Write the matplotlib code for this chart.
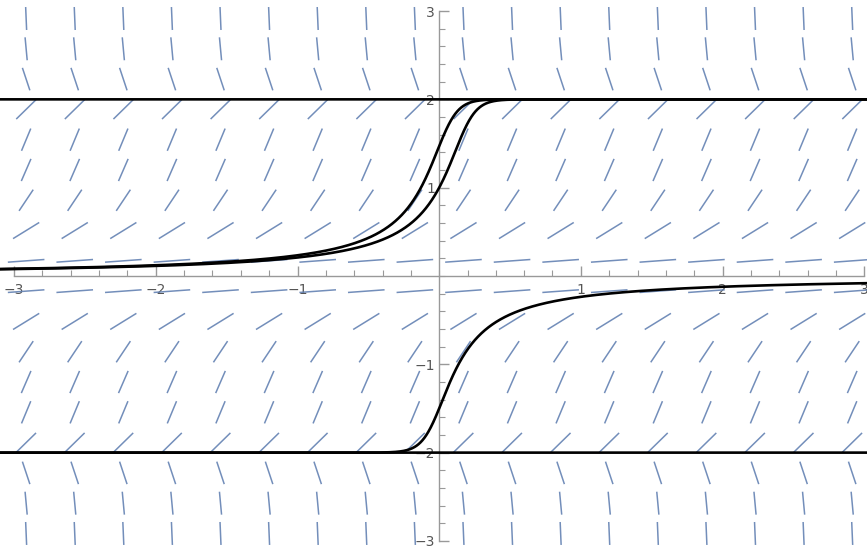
import numpy as np
import matplotlib
matplotlib.use("Agg")
import matplotlib.pyplot as plt
from matplotlib.collections import LineCollection
from matplotlib.ticker import MultipleLocator, FixedLocator

# slope field dy/dx = y^2 (4 - y^2), sampled on an 18 x 18 grid
step = 0.343
grid_x = (np.arange(18) - 8.5) * step
grid_y = (np.arange(18) - 8.5) * step
seg_len = 0.26

# initial values y(0) of the drawn solutions
y0_list = [2.0, 1.47, 1.0, -1.5, -2.0]

major_ticks = [-3, -2, -1, 1, 2, 3]


def f(x, y):
    return y ** 2 * (4 - y ** 2)


def solve(y0, x_end, h=0.002):
    xs = [0.0]
    ys = [y0]
    n = int(abs(x_end) / h)
    h = np.sign(x_end) * h
    x, y = 0.0, y0
    for i in range(n):
        k1 = f(x, y)
        k2 = f(x + h / 2, y + h / 2 * k1)
        k3 = f(x + h / 2, y + h / 2 * k2)
        k4 = f(x + h, y + h * k3)
        y = y + h / 6 * (k1 + 2 * k2 + 2 * k3 + k4)
        x = x + h
        xs.append(x)
        ys.append(y)
    return np.array(xs), np.array(ys)


fig = plt.figure(figsize=(8.67, 5.48), dpi=100)
ax = fig.add_axes([0, 0, 1, 1])

# slope segments
X, Y = np.meshgrid(grid_x, grid_y)
S = f(X, Y)
norm = np.sqrt(1 + S ** 2)
dx = seg_len / 2 / norm
dy = seg_len / 2 * S / norm
segs = np.stack([np.stack([X - dx, Y - dy], -1), np.stack([X + dx, Y + dy], -1)], -2)
segs = segs.reshape(-1, 2, 2)
ax.add_collection(LineCollection(segs, colors='#6482b3', linewidths=1.1, alpha=0.9, zorder=2))

# solution curves
for y0 in y0_list:
    xl, yl = solve(y0, -3.2)
    xr, yr = solve(y0, 3.2)
    xx = np.concatenate([xl[::-1], xr[1:]])
    yy = np.concatenate([yl[::-1], yr[1:]])
    ax.plot(xx, yy, color='black', lw=1.9, zorder=3)

ax.set_xlim(-3.1, 3.02)
ax.set_ylim(-3.08, 3.125)

for s in ['top', 'right']:
    ax.spines[s].set_visible(False)
ax.spines['left'].set_position(('data', 0))
ax.spines['bottom'].set_position(('data', 0))
ax.spines['left'].set_bounds(-3, 3)
ax.spines['bottom'].set_bounds(-3, 3)
for s in ['left', 'bottom']:
    ax.spines[s].set_color('#999999')
    ax.spines[s].set_linewidth(1.0)
    ax.spines[s].set_zorder(1)

ax.xaxis.set_major_locator(FixedLocator(major_ticks))
ax.yaxis.set_major_locator(FixedLocator(major_ticks))
ax.xaxis.set_minor_locator(MultipleLocator(0.2))
ax.yaxis.set_minor_locator(MultipleLocator(0.2))
ax.tick_params(which='both', direction='in', color='#999999', labelcolor='#555555', labelsize=10)
ax.tick_params(which='major', length=7, width=1)
ax.tick_params(which='minor', length=4, width=0.8)
ax.tick_params(axis='x', which='both', pad=5)
ax.tick_params(axis='y', which='both', pad=3)
ax.set_xticklabels(['\u22123', '\u22122', '\u22121', '1', '2', '3'])
ax.set_yticklabels(['\u22123', '\u22122', '\u22121', '1', '2', '3'])

fig.savefig('out.png', dpi=100)
